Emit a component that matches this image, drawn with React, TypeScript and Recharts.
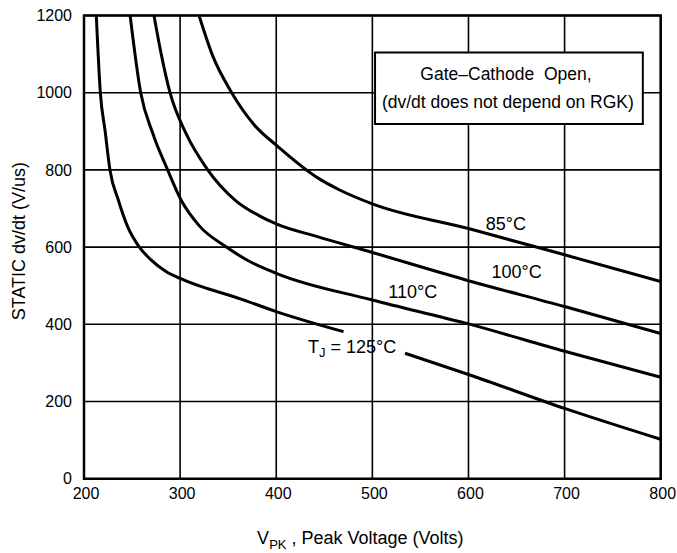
import React from 'react';
import { LineChart, Line, XAxis, YAxis, CartesianGrid, ReferenceArea, ReferenceDot, Label } from 'recharts';

const FONT = '"Liberation Sans", Arial, Helvetica, sans-serif';

// axis ticks
const xTicks = [200, 300, 400, 500, 600, 700, 800];
const yTicks = [0, 200, 400, 600, 800, 1000, 1200];

// 85°C curve
const vpk85 = [319.7, 333.5, 353.7, 377, 401.5, 444, 466, 500, 600, 700, 800];
const dvdt85 = [1200, 1098, 1000, 917, 861, 778, 748, 712, 648, 580, 511];

// 100°C curve
const vpk100 = [272.8, 280.5, 289.5, 306, 328.7, 358, 382.5, 400, 442.8, 500, 600, 700, 800];
const dvdt100 = [1200, 1098, 1000, 895, 800, 720, 681, 660, 627, 586, 513, 446, 376];

// 110°C curve
const vpk110 = [248, 259, 271.5, 287, 301, 320, 347, 370, 400, 500, 600, 700, 800];
const dvdt110 = [1200, 1000, 895, 800, 722, 655, 602, 566, 532, 463, 401, 330, 263];

// 125°C curve (broken where the label sits)
const vpk125 = [212.8, 217, 222, 227, 235.7, 245.4, 257.6, 269.7, 285.3, 300, 365, 400, 470, 500, 534, 600, 700, 800];
const dvdt125 = [1200, 1000, 900, 800, 722, 653, 600, 567, 537, 519, 464, 433, 381, null, 325, 270, 182, 102];

// curve labels
const labelSub = ['', '', '', 'J'];
const labelText = ['85°C', '100°C', '110°C', ' = 125°C'];
const labelVpk = [639, 650, 542, 479];
const labelDvdt = [659, 536, 484, 341];

// note box
const noteLines = ['Gate\u2013Cathode  Open,', '(dv/dt does not depend on RGK)'];
const noteVpk = [639, 641];
const noteDvdt = [1049, 977];

const zip = (xs: number[], ys: (number | null)[]) => xs.map((v, i) => ({ v, dvdt: ys[i] }));

const series = [
  { key: '85', data: zip(vpk85, dvdt85) },
  { key: '100', data: zip(vpk100, dvdt100) },
  { key: '110', data: zip(vpk110, dvdt110) },
  { key: '125', data: zip(vpk125, dvdt125) },
];

const YTitle = (props: any) => {
  const { x, y, height } = props.viewBox;
  const cx = x + 5;
  const cy = y + height / 2 - 6;
  return (
    <text x={cx} y={cy} transform={`rotate(-90 ${cx} ${cy})`} textAnchor="middle" dominantBaseline="central"
      fontSize={18} fontFamily={FONT} fill="#000">
      STATIC dv/dt (V/us)
    </text>
  );
};

const XTitle = (props: any) => {
  const { x, y, width } = props.viewBox;
  return (
    <text x={x + width / 2 - 12} y={y + 65} textAnchor="middle" fontSize={18} fontFamily={FONT} fill="#000">
      V<tspan fontSize={13} dy={5}>PK</tspan>
      <tspan dy={-5}> , Peak Voltage (Volts)</tspan>
    </text>
  );
};

export default function App() {
  return (
    <div style={{ position: 'absolute', left: 0, top: 0, background: '#fff' }}>
      <LineChart width={677} height={553} margin={{ top: 15.5, right: 16.3, left: 14, bottom: 34.3 }}>
        <CartesianGrid stroke="#000" strokeWidth={1.6} />
        <XAxis type="number" dataKey="v" domain={[200, 800]} ticks={xTicks} allowDataOverflow
          tickLine={false} axisLine={false} tickSize={0} tickMargin={9} height={40}
          tick={{ fill: '#000', fontSize: 16, fontFamily: FONT, dx: 2 }}>
          <Label content={XTitle} />
        </XAxis>
        <YAxis type="number" domain={[0, 1200]} ticks={yTicks} allowDataOverflow
          tickLine={false} axisLine={false} tickSize={0} tickMargin={12} width={70}
          tick={{ fill: '#000', fontSize: 16, fontFamily: FONT }}>
          <Label content={YTitle} />
        </YAxis>
        <ReferenceArea x1={502.8} x2={781.4} y1={919} y2={1104} fill="#fff" fillOpacity={1} stroke="#000" strokeWidth={2} />
        {series.map(s => (
          <Line key={s.key} data={s.data} dataKey="dvdt" type="monotone" stroke="#000" strokeWidth={3}
            dot={false} activeDot={false} connectNulls={false} isAnimationActive={false} />
        ))}
        <ReferenceArea x1={200} x2={800} y1={0} y2={1200} fill="none" stroke="#000" strokeWidth={2.5} />
        {labelText.map((t, i) => (
          <ReferenceDot key={`lbl-${i}`} x={labelVpk[i]} y={labelDvdt[i]} r={0}
            shape={(p: any) => (
              <text x={p.cx} y={p.cy} textAnchor="middle" dominantBaseline="central" fontSize={18} fontFamily={FONT} fill="#000">
                {labelSub[i] ? (
                  <>
                    T<tspan fontSize={13} dy={5}>{labelSub[i]}</tspan>
                    <tspan dy={-5}>{t}</tspan>
                  </>
                ) : t}
              </text>
            )} />
        ))}
        {noteLines.map((t, i) => (
          <ReferenceDot key={`note-${i}`} x={noteVpk[i]} y={noteDvdt[i]} r={0}
            shape={(p: any) => (
              <text x={p.cx} y={p.cy} textAnchor="middle" dominantBaseline="central" fontSize={17.5} fontFamily={FONT}
                fill="#000" style={{ whiteSpace: 'pre' }}>
                {t}
              </text>
            )} />
        ))}
      </LineChart>
    </div>
  );
}
